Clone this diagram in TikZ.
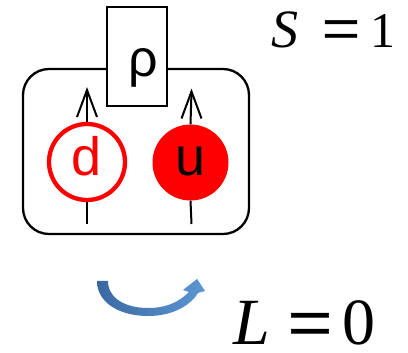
\documentclass[tikz,border=0pt]{standalone}
\usepackage{fontspec}
\setmainfont{Liberation Sans}
\newfontfamily\tmsfont{Liberation Serif}
\newfontfamily\tmsbold[FakeBold=0.8]{Liberation Serif}
\definecolor{arrowdark}{RGB}{58,105,162}
\definecolor{arrowlight}{RGB}{92,150,210}
\begin{document}
\begin{tikzpicture}[x=1pt,y=-1pt,
  outerbox/.style={draw=black,line width=2.3pt,rounded corners=26pt},
  rhobox/.style={draw=black,fill=white,line width=1.5pt},
  stem/.style={line width=2pt},
  barb/.style={line width=2pt,line join=miter},
  quark/.style={font=\fontsize{54}{60}\selectfont,inner sep=0pt,anchor=base},
  eqtext/.style={inner sep=0pt}]
\useasboundingbox (0,0) rectangle (408,353);
% outer rounded box
\draw[outerbox] (23,69) rectangle (249,234);
% rho box
\node[rhobox,minimum width=60pt,minimum height=99pt,inner sep=0pt] (rho) at (137,56.5) {};
\node[quark,font=\fontsize{52}{60}\selectfont] (rhot) at (143,77) {ρ};
% d quark
\node[circle,draw=red,line width=4.3pt,minimum size=76pt,inner sep=0pt] (d) at (87,162) {};
\node[quark,text=red] (dt) at (87,176) {d};
% u quark
\node[circle,fill=red,minimum size=76pt,inner sep=0pt] (u) at (190.5,162.5) {};
\node[quark,text=black] (ut) at (190.5,176) {u};
% spin arrows
\coordinate (dtip) at (87,90);
\coordinate (dbot) at (87,224);
\coordinate (utip) at (191.5,91.5);
\coordinate (ubot) at (191.5,224);
\draw[stem] (d.north) -- (dtip);
\draw[barb] ([xshift=-10pt,yshift=-27pt]dtip) -- (dtip) -- ([xshift=10pt,yshift=-27pt]dtip);
\draw[stem] (d.south) -- (dbot);
\draw[stem] (u.north) -- (utip);
\draw[barb] ([xshift=-10pt,yshift=-27pt]utip) -- (utip) -- ([xshift=10pt,yshift=-27pt]utip);
\draw[stem] (u.south) -- (ubot);
% curved arrow
\shade[left color=arrowdark,right color=arrowlight]
  (97,281) .. controls (97,303) and (120,316) .. (148,316)
  .. controls (172,316) and (190,306) .. (198,293)
  -- (205,291) -- (197,279) -- (183,290) -- (189,292)
  .. controls (178,303) and (165,308) .. (148,308)
  .. controls (125,308) and (108,298) .. (108,281) -- cycle;
% S = 1
\node[eqtext,anchor=base west,font=\tmsfont\itshape\fontsize{54}{60}\selectfont] (S) at (271,47.5) {S};
\node[eqtext,anchor=center,font=\tmsbold\fontsize{68}{72}\selectfont] (Seq) at (341,36) {=};
\node[eqtext,anchor=base east,font=\tmsfont\fontsize{50}{56}\selectfont] (Sone) at (396,47.5) {1};
% L = 0
\node[eqtext,anchor=base west,font=\tmsfont\itshape\fontsize{66}{72}\selectfont] (L) at (233,344.5) {L};
\node[eqtext,anchor=center,font=\tmsbold\fontsize{80}{84}\selectfont] (Leq) at (310,331.5) {=};
\node[eqtext,anchor=base east,font=\tmsfont\fontsize{66}{72}\selectfont] (Lzero) at (376,344.5) {0};
\end{tikzpicture}
\end{document}
